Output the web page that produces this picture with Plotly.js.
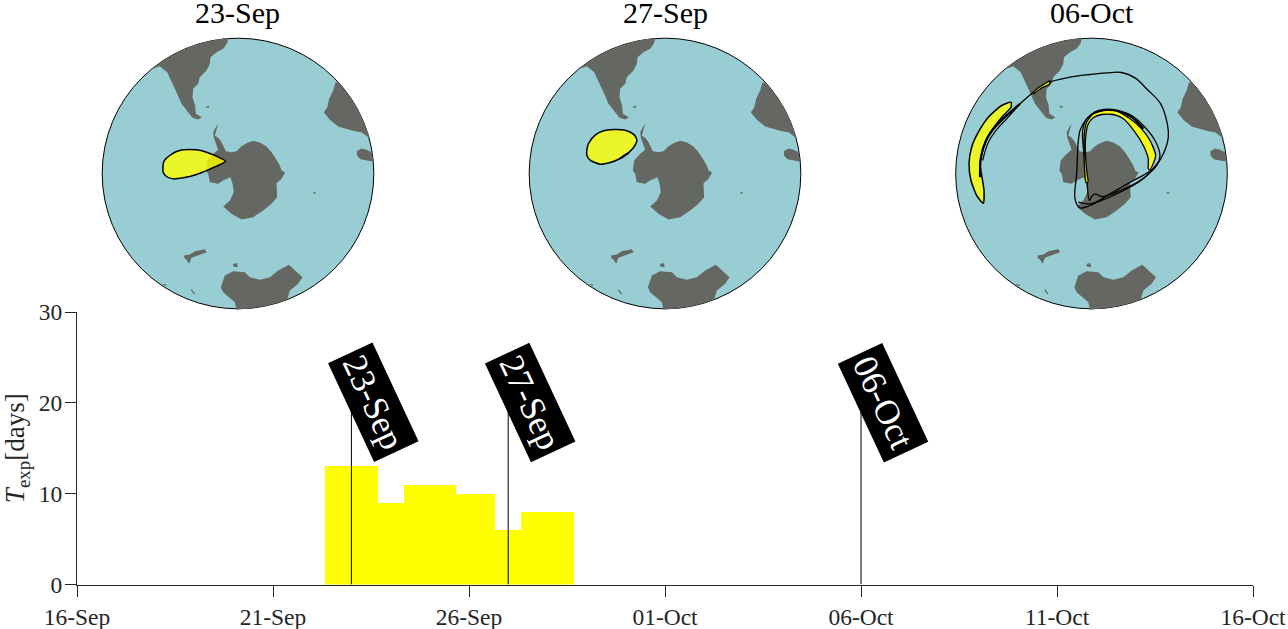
<!DOCTYPE html>
<html>
<head>
<meta charset="utf-8">
<script src="https://cdn.plot.ly/plotly-3.0.1.min.js"></script>
<style>
  html, body { margin: 0; padding: 0; background: #fff; overflow: hidden; }
</style>
</head>
<body>
<div id="chart" style="width:1288px;height:629px"></div>
<script>
// bar values, one per 8 hour bin
const binCentres = ['2021-09-22 12:00', '2021-09-22 20:00', '2021-09-23 04:00', '2021-09-23 12:00',
  '2021-09-23 20:00', '2021-09-24 04:00', '2021-09-24 12:00', '2021-09-24 20:00', '2021-09-25 04:00',
  '2021-09-25 12:00', '2021-09-25 20:00', '2021-09-26 04:00', '2021-09-26 12:00', '2021-09-26 20:00',
  '2021-09-27 04:00', '2021-09-27 12:00', '2021-09-27 20:00', '2021-09-28 04:00', '2021-09-28 12:00'];
const expValues = [13, 13, 13, 13, 9, 9, 11, 11, 11, 11, 10, 10, 10, 6, 6, 8, 8, 8, 8];

const flagDates = ['2021-09-23', '2021-09-27', '2021-10-06'];
const flagLabels = ['23-Sep', '27-Sep', '06-Oct'];
const flagTop = 19;

// map outlines, all panels share one map coordinate frame
const southAmX = [182, 220, 260, 300, 340, 380, 415, 412, 400, 380, 362, 360, 350, 330, 325, 310, 308, 316, 318, 336, 325, 308, 295, 275, 262, 245, 232, 210];
const southAmY = [207, 180, 157, 139, 126, 117, 113, 128, 145, 155, 170, 190, 210, 230, 250, 265, 290, 315, 340, 350, 357, 352, 335, 310, 280, 245, 215, 197];
const africaX = [737, 750, 775, 800, 820, 835, 842, 835, 815, 795, 770, 745, 720, 702, 712, 718, 730];
const africaY = [245, 250, 282, 317, 360, 400, 418, 410, 395, 392, 385, 378, 358, 335, 322, 295, 270];
const madagX = [801, 815, 830, 845, 851, 835, 812, 802];
const madagY = [452, 444, 448, 455, 484, 481, 476, 466];
const antarcticaX = [385, 380, 375, 385, 392, 400, 408, 425, 440, 455, 470, 490, 510, 530, 545, 558, 570, 575, 586, 575, 560, 562, 545, 520, 490, 455, 425, 400, 420, 432, 428, 422, 400, 385, 360, 355, 348, 352, 368, 385, 378, 372, 370, 378];
const antarcticaY = [370, 390, 405, 412, 420, 435, 452, 455, 452, 437, 428, 421, 426, 438, 455, 475, 495, 510, 516, 535, 548, 590, 610, 630, 650, 657, 640, 618, 600, 575, 550, 530, 540, 550, 545, 520, 510, 480, 462, 448, 430, 412, 395, 380];
const australiaX = [393, 405, 430, 465, 480, 510, 540, 565, 597, 620, 638, 625, 600, 592, 560, 520, 470, 445, 440, 435, 415, 400];
const australiaY = [860, 825, 812, 815, 830, 838, 830, 810, 793, 815, 830, 850, 870, 897, 908, 918, 925, 926, 928, 905, 888, 875];
const tasmaniaX = [430, 442, 443, 430];
const tasmaniaY = [790, 788, 800, 798];
const newZealandX = [283, 300, 315, 345, 350, 325, 305, 298, 290, 283];
const newZealandY = [765, 762, 752, 746, 755, 765, 772, 790, 778, 772];
const isletAX = [302, 306, 316, 312];
const isletAY = [868, 867, 880, 881];
const isletBX = [348, 358, 358, 350];
const isletBY = [318, 316, 321, 322];
const isletCX = [670, 678, 678, 670];
const isletCY = [575, 575, 579, 579];
const isletDX = [218, 230, 230, 220];
const isletDY = [850, 853, 856, 854];

// tracer patches
const patch23X = [220, 225, 240, 260, 280, 320, 350, 380, 407, 385, 355, 320, 280, 250, 230, 220, 220];
const patch23Y = [490, 478, 465, 453, 448, 448, 455, 467, 482, 495, 508, 522, 532, 535, 528, 515, 490];
const patch27X = [210, 215, 235, 260, 290, 325, 350, 360, 355, 335, 310, 280, 250, 220, 210, 210];
const patch27Y = [449, 429, 404, 391, 387, 389, 401, 417, 434, 457, 474, 486, 491, 479, 464, 449];
const scrap27X = [310, 322, 335];
const scrap27Y = [474, 465, 458];

const crescentX = [203, 175, 135, 105, 85, 77, 83, 100, 120, 122, 116, 110, 118, 135, 158, 180, 203, 203];
const crescentY = [305, 315, 350, 395, 440, 490, 540, 585, 608, 570, 530, 490, 450, 405, 372, 345, 320, 305];
const arcX = [480, 520, 560, 595, 620, 637, 620, 615, 615, 600, 575, 540, 510, 475, 450, 435, 428, 426, 430, 434, 428, 424, 422, 423, 430, 450, 480];
const arcY = [330, 332, 355, 385, 420, 465, 508, 505, 475, 435, 395, 355, 342, 342, 352, 370, 400, 450, 510, 545, 545, 510, 450, 400, 365, 340, 330];
const sliverX = [270, 285, 320, 318, 295, 272, 270];
const sliverY = [275, 262, 240, 252, 262, 280, 275];
const filOuterX = [230, 270, 310, 380, 440, 490, 535, 575, 612, 652, 672, 675, 660, 630, 570, 500, 440, 410, 395, 400, 410, 430, 455, 505];
const filOuterY = [310, 275, 248, 230, 222, 217, 216, 232, 267, 310, 370, 410, 460, 505, 540, 580, 615, 622, 595, 520, 390, 355, 335, 328];
const filMidX = [480, 520, 565, 600, 635, 650, 640, 590, 530, 475, 455, 445, 438, 430, 422, 418, 430, 455, 480];
const filMidY = [328, 330, 345, 375, 420, 465, 495, 540, 570, 588, 580, 588, 600, 530, 460, 390, 355, 338, 330];
const filLowX = [405, 440, 520, 600, 645];
const filLowY = [605, 610, 580, 535, 485];
const filTopX = [450, 480, 520, 565, 600];
const filTopY = [338, 328, 330, 350, 385];
const filLeftAX = [110, 113, 128, 155, 185, 230];
const filLeftAY = [530, 470, 420, 380, 350, 310];
const filLeftBX = [118, 135, 162, 190, 230];
const filLeftBY = [480, 425, 385, 355, 310];

const panelCentres = [238, 665, 1091.5];
const panelTitles = ['23-Sep', '27-Sep', '06-Oct'];

const serif = '"Liberation Serif", "DejaVu Serif", serif';
const axisDark = '#262626';
const W = 1288;
const H = 629;

const land = [
  [southAmX, southAmY], [africaX, africaY], [madagX, madagY], [antarcticaX, antarcticaY],
  [australiaX, australiaY], [tasmaniaX, tasmaniaY], [newZealandX, newZealandY],
  [isletAX, isletAY], [isletBX, isletBY], [isletCX, isletCY], [isletDX, isletDY],
];

const traces = [];
const shapes = [];
const annotations = [];
const layout = {
  width: W,
  height: H,
  margin: { l: 0, r: 0, t: 0, b: 0 },
  paper_bgcolor: '#fff',
  plot_bgcolor: 'rgba(0,0,0,0)',
  showlegend: false,
  bargap: 0,
  hovermode: false,
};

const poly = (xs, ys, axis, color, lineWidth, smooth) => ({
  x: xs,
  y: ys,
  xaxis: 'x' + axis,
  yaxis: 'y' + axis,
  type: 'scatter',
  mode: 'lines',
  fill: 'toself',
  fillcolor: color,
  line: {
    color: lineWidth ? '#000' : color,
    width: lineWidth || 0,
    shape: smooth ? 'spline' : 'linear',
    smoothing: smooth || 0,
  },
});

const thread = (xs, ys, axis, width) => ({
  x: xs,
  y: ys,
  xaxis: 'x' + axis,
  yaxis: 'y' + axis,
  type: 'scatter',
  mode: 'lines',
  line: { color: '#000', width: width, shape: 'spline', smoothing: 1 },
});

// the three globes
panelCentres.forEach((cx, i) => {
  const n = i + 2;
  layout['xaxis' + n] = {
    domain: [(cx - 138) / W, (cx + 138) / W],
    range: [30.5, 858.5],
    visible: false,
    fixedrange: true,
  };
  layout['yaxis' + n] = {
    domain: [(H - 311.5) / H, (H - 35.5) / H],
    range: [933, 105],
    visible: false,
    fixedrange: true,
  };
  shapes.push({
    type: 'circle',
    xref: 'x' + n,
    yref: 'y' + n,
    x0: 37,
    x1: 852,
    y0: 113,
    y1: 925,
    fillcolor: '#98cdd3',
    line: { color: '#000', width: 1 },
    layer: 'below',
  });
  land.forEach(([xs, ys]) => traces.push(poly(xs, ys, n, '#656862', 0)));
  annotations.push({
    xref: 'paper',
    yref: 'paper',
    x: cx / W,
    y: (H - 12) / H,
    xanchor: 'center',
    yanchor: 'middle',
    showarrow: false,
    text: panelTitles[i],
    font: { family: serif, size: 30, color: '#000' },
  });
});

const tracer = 'rgba(255,255,0,0.8)';
traces.push(poly(patch23X, patch23Y, 2, tracer, 1.5, 0.5));
traces.push(poly(patch27X, patch27Y, 3, tracer, 1.5, 0.7));
traces.push(thread(scrap27X, scrap27Y, 3, 2));
traces.push(thread(filOuterX, filOuterY, 4, 1.3));
traces.push(thread(filMidX, filMidY, 4, 1.3));
traces.push(thread(filLowX, filLowY, 4, 1.3));
traces.push(poly(crescentX, crescentY, 4, tracer, 1.5, 0.6));
traces.push(poly(arcX, arcY, 4, 'rgba(255,255,0,0.9)', 1.3, 0.6));
traces.push(poly(sliverX, sliverY, 4, 'rgba(255,255,0,0.9)', 1.2));
traces.push(thread(filTopX, filTopY, 4, 2.2));
traces.push(thread(filLeftAX, filLeftAY, 4, 2.2));
traces.push(thread(filLeftBX, filLeftBY, 4, 1.2));

// bottom time axis
traces.push({
  x: binCentres,
  y: expValues,
  type: 'bar',
  width: 8 * 3600 * 1000,
  marker: { color: '#ffff00', line: { width: 0 } },
});

flagDates.forEach((d, i) => {
  traces.push({
    x: [d, d],
    y: [0, flagTop],
    type: 'scatter',
    mode: 'lines',
    line: { color: '#000', width: 1 },
  });
  annotations.push({
    xref: 'x',
    yref: 'y',
    x: d,
    y: 20.05,
    xshift: 21.5,
    xanchor: 'center',
    yanchor: 'middle',
    showarrow: false,
    text: flagLabels[i],
    textangle: 65,
    width: 108,
    height: 48,
    bgcolor: '#000',
    borderpad: 0,
    font: { family: serif, size: 35, color: '#fff' },
  });
});

layout.xaxis = {
  type: 'date',
  domain: [77 / W, 1253 / W],
  range: ['2021-09-16', '2021-10-16'],
  tick0: '2021-09-16',
  dtick: 5 * 86400000,
  tickformat: '%d-%b',
  ticks: 'outside',
  ticklen: 11,
  tickwidth: 1,
  tickcolor: axisDark,
  showline: true,
  linecolor: axisDark,
  linewidth: 1,
  showgrid: false,
  zeroline: false,
  layer: 'below traces',
  tickfont: { family: serif, size: 23.5, color: axisDark },
  anchor: 'y',
  fixedrange: true,
};
layout.yaxis = {
  domain: [(H - 584.5) / H, (H - 312) / H],
  range: [0, 30],
  tickvals: [0, 10, 20, 30],
  ticks: 'outside',
  ticklen: 11,
  tickwidth: 1,
  tickcolor: axisDark,
  showline: true,
  linecolor: axisDark,
  linewidth: 1,
  showgrid: false,
  zeroline: false,
  ticklabelstandoff: -2,
  tickfont: { family: serif, size: 23.5, color: axisDark },
  title: {
    text: '<i>T</i><sub>exp</sub>[days]',
    font: { family: serif, size: 27, color: axisDark },
    standoff: 6,
  },
  anchor: 'x',
  fixedrange: true,
};
layout.shapes = shapes;
layout.annotations = annotations;

Plotly.newPlot('chart', traces, layout, { displayModeBar: false, responsive: false });
</script>
</body>
</html>
